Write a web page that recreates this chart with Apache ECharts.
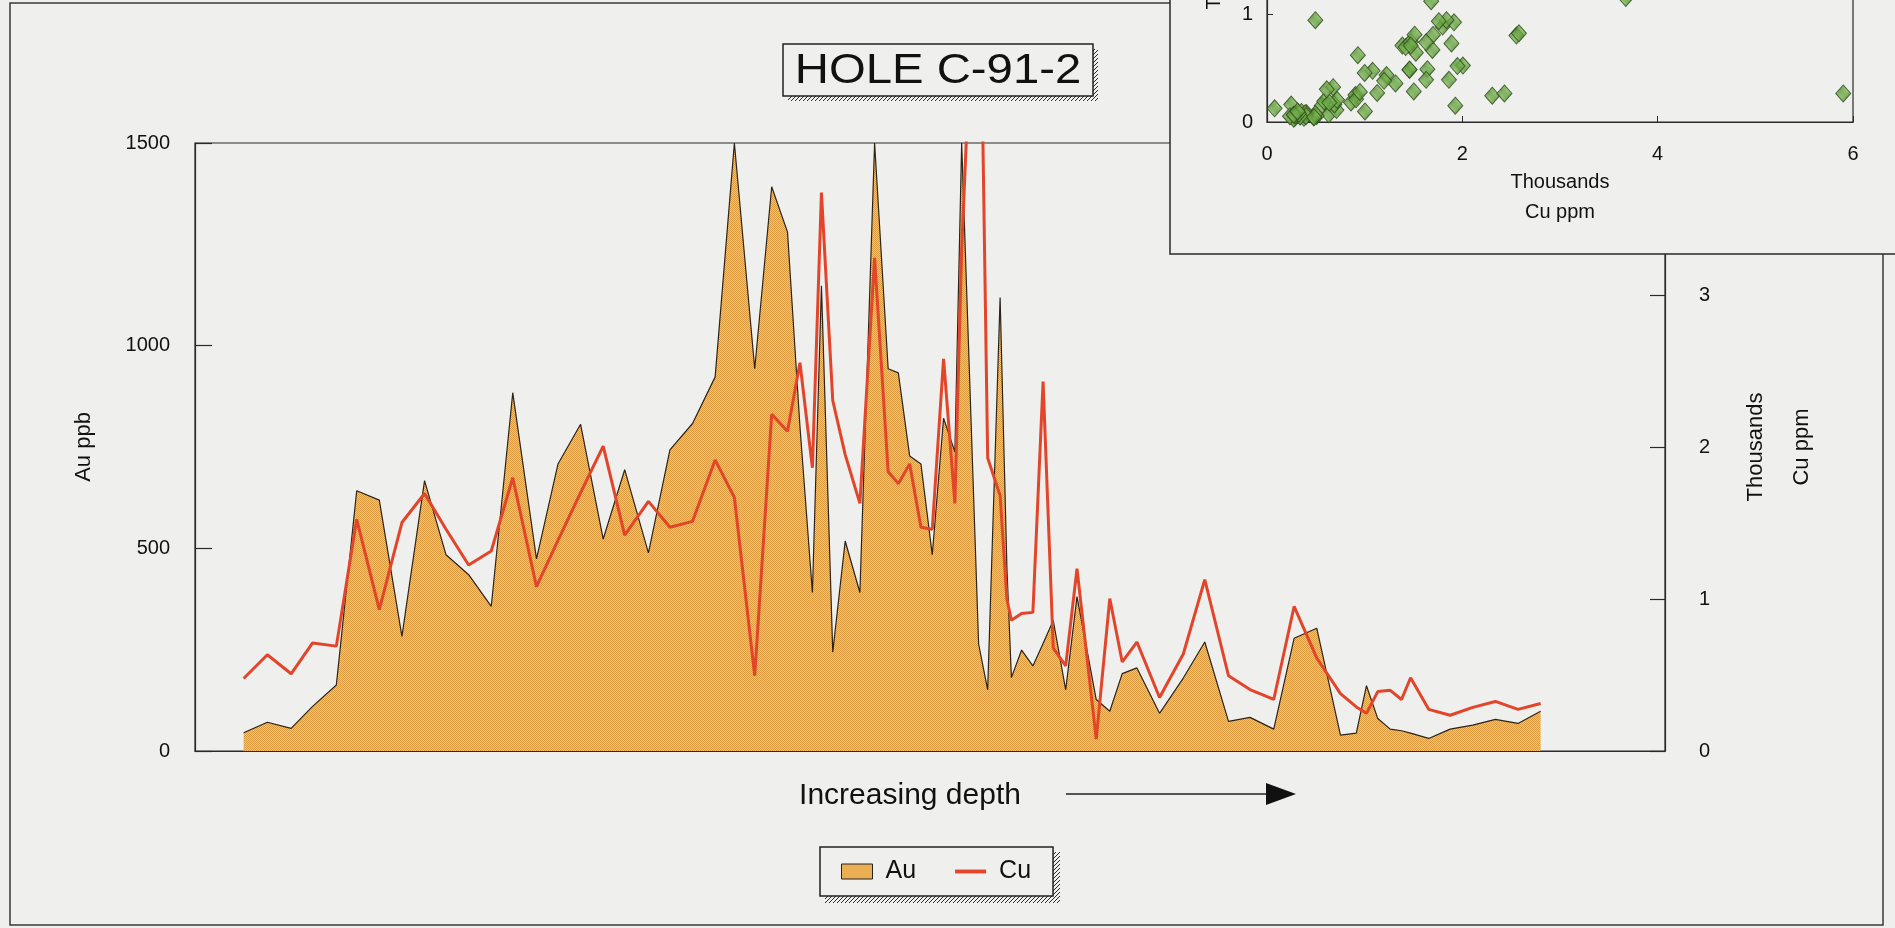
<!DOCTYPE html>
<html>
<head>
<meta charset="utf-8">
<script src="https://cdn.jsdelivr.net/npm/echarts@6/dist/echarts.min.js"></script>
<style>
  html, body { margin: 0; padding: 0; background: #efefed; }
  #chart { width: 1895px; height: 928px; }
</style>
</head>
<body>
<div id="chart"></div>
<script>
// Sample positions down hole C-91-2 (relative depth units, shallow to deep)
const depth = [4.3, 6.4, 8.5, 10.4, 12.5, 14.3, 16.3, 18.3, 20.3, 22.2,
  24.2, 26.2, 28.1, 30.2, 32.1, 34.1, 36.1, 38.0, 40.1, 42.0,
  44.0, 46.0, 47.7, 49.5, 51.0, 52.4, 53.5, 54.6, 55.4, 56.4,
  57.5, 58.8, 60.1, 61.3, 62.2, 63.2, 64.2, 65.2, 66.2, 67.2,
  67.8, 69.3, 70.1, 71.2, 71.8, 72.2, 73.1, 74.1, 75.0, 75.9,
  77.0, 78.0, 79.7, 80.9, 82.0, 83.3, 85.3, 87.4, 89.3, 91.4,
  93.3, 95.4, 97.2, 99.2, 101.3, 102.7, 103.6, 104.6, 105.7, 106.7,
  107.5, 109.1, 111.0, 113.0, 115.0, 117.0, 119.0];

// Gold assays, ppb
const auPpb = [45, 71, 56, 110, 163, 642, 619, 283, 667, 484,
  435, 357, 884, 474, 708, 806, 523, 694, 489, 743,
  808, 923, 1500, 943, 1392, 1280, 800, 391, 1148, 244,
  518, 391, 1500, 943, 933, 728, 708, 484, 821, 738,
  1500, 264, 151, 1119, 454, 181, 249, 210, 265, 322,
  151, 381, 127, 98, 191, 205, 93, 180, 269, 73,
  83, 54, 278, 303, 39, 44, 161, 80, 54, 50,
  44, 31, 54, 64, 78, 68, 98];

// Copper assays, ppm
const cuPpm = [477, 633, 508, 711, 690, 1524, 930, 1503, 1694, 1459,
  1224, 1316, 1798, 1081, 1386, 1699, 2006, 1420, 1642, 1472,
  1511, 1915, 1668, 495, 2215, 2103, 2554, 1863, 3674, 2306,
  1950, 1629, 3244, 1837, 1759, 1889, 1472, 1459, 2580, 1629,
  3300, 5900, 1928, 1681, 1000, 860, 905, 912, 2431, 677,
  560, 1199, 78, 1003, 586, 717, 352, 638, 1128, 495,
  404, 339, 951, 612, 378, 290, 248, 391, 399, 339,
  482, 274, 235, 287, 326, 274, 313];

const auTicks = [0, 500, 1000, 1500];
const cuTicksThousands = [0, 1, 2, 3, 4];

const BG = '#efefed';
const FONT = "'Liberation Sans', Arial, sans-serif";

// Fine two-tone stipple used for the gold area and the scatter markers
function stipple(a, b) {
  const c = document.createElement('canvas');
  c.width = 2; c.height = 2;
  const g = c.getContext('2d');
  g.fillStyle = a; g.fillRect(0, 0, 2, 2);
  g.fillStyle = b; g.fillRect(0, 0, 1, 1); g.fillRect(1, 1, 1, 1);
  return { image: c, repeat: 'repeat' };
}
// Diagonal hatching used for the drop shadows of the boxes
function hatch() {
  const c = document.createElement('canvas');
  c.width = 4; c.height = 4;
  const g = c.getContext('2d');
  g.fillStyle = BG; g.fillRect(0, 0, 4, 4);
  g.fillStyle = '#2a2a2a';
  for (let i = 0; i < 4; i++) g.fillRect(i, 3 - i, 1, 1);
  return { image: c, repeat: 'repeat' };
}

const auFill = stipple('#f8c366', '#dc9b3e');
const greenFill = stipple('#8cc45e', '#4e8a30');
const shadowFill = hatch();

const auSeries = depth.map((d, i) => [d, auPpb[i]]);
const cuSeries = depth.map((d, i) => [d, cuPpm[i]]);
const scatterPts = depth.map((d, i) => [cuPpm[i] / 1000, auPpb[i] / 1000]);

const chart = echarts.init(document.getElementById('chart'), null, { renderer: 'canvas' });

chart.setOption({
  animation: false,
  backgroundColor: BG,
  textStyle: { fontFamily: FONT, color: '#111' },
  grid: [
    { left: 195, right: 230, top: 143, bottom: 177, show: true, outerBoundsMode: 'none',
      borderColor: '#2a2a2a', borderWidth: 1.2, backgroundColor: 'transparent' },
    // inset plot: its upper part runs past the top of the figure
    { left: 1267, right: 42, top: -202, bottom: 806, show: true, z: 60, outerBoundsMode: 'none',
      borderColor: '#2a2a2a', borderWidth: 1.2, backgroundColor: 'transparent' }
  ],
  legend: {
    left: 820, top: 847,
    padding: [12, 22, 12, 21],
    itemWidth: 31, itemHeight: 15, itemGap: 39,
    borderColor: '#222', borderWidth: 1.5, backgroundColor: BG,
    textStyle: { fontSize: 25, fontFamily: FONT, color: '#111', padding: [0, 0, 0, 8] },
    data: [
      { name: 'Au', icon: 'rect', itemStyle: { color: auFill, borderColor: '#222', borderWidth: 1 } },
      { name: 'Cu', icon: 'path://M0,0H32V4H0Z', itemStyle: { color: '#e2452a', borderWidth: 0 } }
    ],
    selectedMode: false
  },
  xAxis: [
    { type: 'value', gridIndex: 0, min: 0, max: 130,
      name: 'Increasing depth', nameLocation: 'middle', nameGap: 30,
      nameTextStyle: { fontSize: 30, fontFamily: FONT, color: '#111', padding: [0, 40, 0, 0] },
      axisLine: { show: true, lineStyle: { color: '#2a2a2a', width: 1.2 } },
      axisTick: { show: false }, axisLabel: { show: false }, splitLine: { show: false } },
    { type: 'value', gridIndex: 1, min: 0, max: 6, interval: 2, z: 60,
      name: 'Thousands\nCu ppm', nameLocation: 'middle', nameGap: 45,
      nameTextStyle: { fontSize: 20, fontFamily: FONT, color: '#111', lineHeight: 30 },
      axisLine: { show: true, lineStyle: { color: '#2a2a2a', width: 1.2 } },
      axisTick: { show: true, inside: true, length: 6, lineStyle: { color: '#2a2a2a' } },
      axisLabel: { fontSize: 20, color: '#111', margin: 22 },
      splitLine: { show: false } }
  ],
  yAxis: [
    { type: 'value', gridIndex: 0, min: auTicks[0], max: auTicks[auTicks.length - 1], interval: 500,
      name: 'Au ppb', nameLocation: 'middle', nameRotate: 90, nameGap: 100,
      nameTextStyle: { fontSize: 22, fontFamily: FONT, color: '#111' },
      axisLine: { show: true, lineStyle: { color: '#2a2a2a', width: 1.2 } },
      axisTick: { show: true, inside: true, length: 17, lineStyle: { color: '#2a2a2a', width: 1.2 } },
      axisLabel: { fontSize: 20, color: '#111', margin: 25, formatter: v => String(v) },
      splitLine: { show: false } },
    { type: 'value', gridIndex: 0, position: 'right', min: 0,
      max: cuTicksThousands[cuTicksThousands.length - 1] * 1000, interval: 1000,
      name: 'Thousands\nCu ppm', nameLocation: 'middle', nameRotate: 90, nameGap: 68,
      nameTextStyle: { fontSize: 22, fontFamily: FONT, color: '#111', lineHeight: 46 },
      axisLine: { show: true, lineStyle: { color: '#2a2a2a', width: 1.2 } },
      axisTick: { show: true, inside: true, length: 15, lineStyle: { color: '#2a2a2a', width: 1.2 } },
      axisLabel: { fontSize: 20, color: '#111', margin: 34, formatter: v => String(v / 1000) },
      splitLine: { show: false } },
    { type: 'value', gridIndex: 1, min: 0, max: 3, interval: 1, z: 60,
      name: 'Au ppb\nThousands', nameLocation: 'middle', nameRotate: 90, nameGap: 14,
      nameTextStyle: { fontSize: 20, fontFamily: FONT, color: '#111', lineHeight: 47 },
      axisLine: { show: true, lineStyle: { color: '#2a2a2a', width: 1.2 } },
      axisTick: { show: true, inside: true, length: 6, lineStyle: { color: '#2a2a2a' } },
      axisLabel: { fontSize: 20, color: '#111', margin: 14 },
      splitLine: { show: false } }
  ],
  series: [
    { name: 'Au', type: 'line', xAxisIndex: 0, yAxisIndex: 0, data: auSeries,
      symbol: 'none', z: 2,
      lineStyle: { color: '#2b2418', width: 1.2 },
      itemStyle: { color: '#eaab4c' },
      areaStyle: { color: auFill, opacity: 1 } },
    { name: 'Cu', type: 'line', xAxisIndex: 0, yAxisIndex: 1, data: cuSeries,
      symbol: 'none', z: 3,
      lineStyle: { color: '#e2452a', width: 3 },
      itemStyle: { color: '#e2452a' } },
    { name: 'Au vs Cu', type: 'scatter', xAxisIndex: 1, yAxisIndex: 2, data: scatterPts,
      symbol: 'diamond', symbolSize: [15, 17], z: 61,
      itemStyle: { color: greenFill, borderColor: '#2d4a1c', borderWidth: 1 } }
  ],
  graphic: [
    // outer frame of the figure
    { type: 'rect', z: 1, silent: true,
      shape: { x: 10, y: 3, width: 1873, height: 922 },
      style: { fill: 'transparent', stroke: '#3a3a3a', lineWidth: 1.5 } },
    // title box with hatched shadow
    { type: 'rect', z: 5, silent: true,
      shape: { x: 788, y: 49, width: 310, height: 52 }, style: { fill: shadowFill } },
    { type: 'rect', z: 6, silent: true,
      shape: { x: 783, y: 44, width: 310, height: 52 },
      style: { fill: BG, stroke: '#222', lineWidth: 1.5 } },
    { type: 'text', z: 7, silent: true, x: 938, y: 71, scaleX: 1.1,
      style: { text: 'HOLE C-91-2', font: "43px 'Liberation Sans', Arial, sans-serif",
        fill: '#111', align: 'center', verticalAlign: 'middle' } },
    // hatched shadow behind the legend
    { type: 'rect', z: 3, silent: true,
      shape: { x: 825, y: 852, width: 235, height: 51 }, style: { fill: shadowFill } },
    // depth arrow
    { type: 'line', z: 5, silent: true,
      shape: { x1: 1066, y1: 794, x2: 1268, y2: 794 },
      style: { stroke: '#222', lineWidth: 1.5 } },
    { type: 'polygon', z: 5, silent: true,
      shape: { points: [[1266, 783], [1296, 794], [1266, 805]] },
      style: { fill: '#111' } },
    // panel of the Au–Cu scatter inset
    { type: 'rect', z: 50, silent: true,
      shape: { x: 1170, y: -10, width: 760, height: 264 },
      style: { fill: BG, stroke: '#2a2a2a', lineWidth: 1.5 } }
  ]
});
</script>
</body>
</html>
